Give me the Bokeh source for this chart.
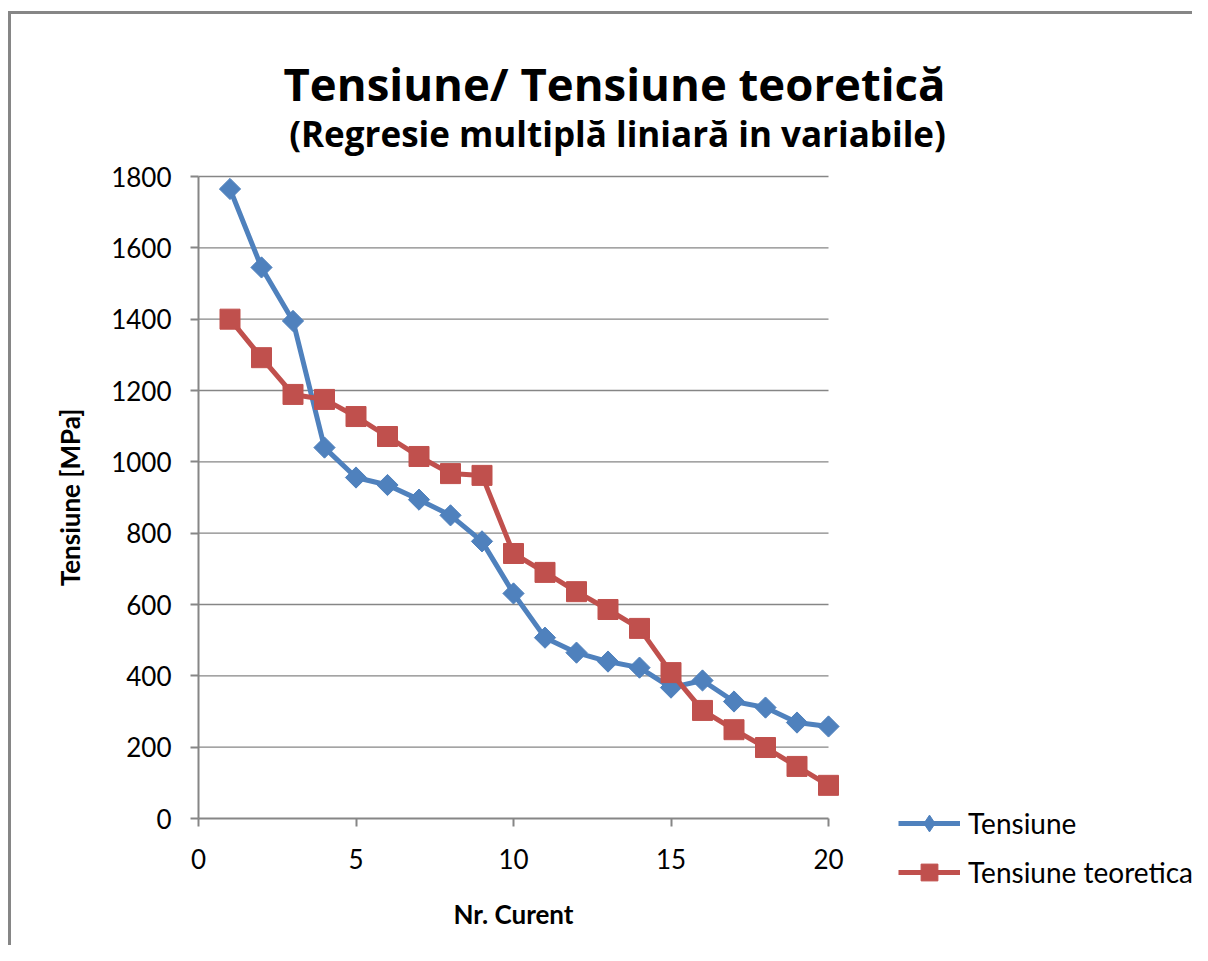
import numpy as np
from bokeh.plotting import figure
from bokeh.models import (FixedTicker, Legend, LegendItem, Label, Range1d)
from bokeh.embed import file_html
from bokeh.resources import INLINE

# ---- data ----
nr_curent = list(range(1, 21))
tensiune = [1765, 1545, 1395, 1040, 956, 935, 894, 850, 777, 631,
            507, 465, 440, 423, 367, 387, 328, 311, 269, 258]
tensiune_teoretica = [1400, 1292, 1189, 1175, 1127, 1071, 1015, 967, 962, 743,
                      690, 636, 586, 533, 409, 303, 249, 199, 146, 93]
x_ticks = [0, 5, 10, 15, 20]
y_ticks = [0, 200, 400, 600, 800, 1000, 1200, 1400, 1600, 1800]
x_bounds = (0, 20)
y_bounds = (0, 1800)
title_main = "Tensiune/ Tensiune teoretică"
title_sub = "(Regresie multiplă liniară in variabile)"
x_label = "Nr. Curent"
y_label = "Tensiune [MPa]"
series_names = ["Tensiune", "Tensiune teoretica"]

BLUE = "#4F81BD"
RED = "#C0504D"
GRAY = "#868686"
FONT = "Lato"
TFONT = "Open Sans"

# ---- layout geometry (pixels) ----
W, H = 1192, 945
PLOT_L, PLOT_R, PLOT_T, PLOT_B = 198, 828, 176, 818
sx = (PLOT_R - PLOT_L) / (x_bounds[1] - x_bounds[0])
sy = (PLOT_B - PLOT_T) / (y_bounds[1] - y_bounds[0])
xr = Range1d(x_bounds[0] - PLOT_L / sx, x_bounds[0] + (W - PLOT_L) / sx)
yr = Range1d(y_bounds[0] - (H - PLOT_B) / sy, y_bounds[0] + PLOT_B / sy)

p = figure(width=W, height=H, output_backend="svg", toolbar_location=None,
           x_range=xr, y_range=yr, min_border=0)
p.outline_line_color = None
p.background_fill_color = None
p.border_fill_color = None
p.styles = {
    "background": ("linear-gradient(#868686,#868686) 8px 11px / 3px 100% no-repeat, "
                   "linear-gradient(#868686,#868686) 8px 11px / 100% 3px no-repeat, white"),
}

# axes at fixed positions inside the canvas
p.xaxis.fixed_location = y_bounds[0]
p.yaxis.fixed_location = x_bounds[0]
p.xaxis.bounds = x_bounds
p.yaxis.bounds = y_bounds
for ax in (p.xaxis[0], p.yaxis[0]):
    ax.axis_line_color = GRAY
    ax.axis_line_width = 2
    ax.major_tick_line_color = GRAY
    ax.major_tick_line_width = 2
    ax.minor_tick_line_color = None
    ax.major_tick_in = 0
    ax.major_tick_out = 8
    ax.major_label_text_font = FONT
    ax.major_label_text_font_size = "26px"
    ax.major_label_text_color = "black"
    ax.axis_label_text_font = FONT
    ax.axis_label_text_font_size = "26px"
    ax.axis_label_text_font_style = "bold"
    ax.axis_label_text_color = "black"

p.xaxis.ticker = FixedTicker(ticks=x_ticks)
p.yaxis.ticker = FixedTicker(ticks=y_ticks)
p.xaxis.major_label_standoff = 22
p.yaxis.major_label_standoff = 19
p.xaxis.axis_label = x_label
p.yaxis.axis_label = y_label
p.xaxis.axis_label_standoff = 26
p.yaxis.axis_label_standoff = 22

# horizontal gridlines limited to the plot area
p.xgrid.grid_line_color = None
p.ygrid.grid_line_color = None
gy = y_ticks[1:]
p.segment(x0=[x_bounds[0]] * len(gy), y0=gy, x1=[x_bounds[1]] * len(gy), y1=gy,
          line_color=GRAY, line_width=1.3)

# series
l1 = p.line(nr_curent, tensiune, line_color=BLUE, line_width=5)
d1 = p.scatter(nr_curent, tensiune, marker="diamond", size=16,
               fill_color=BLUE, line_color=BLUE)
s1 = p.scatter(nr_curent, tensiune, marker="square", size=15, angle=np.pi / 4,
               fill_color=BLUE, line_color=BLUE)
l2 = p.line(nr_curent, tensiune_teoretica, line_color=RED, line_width=5)
s2 = p.scatter(nr_curent, tensiune_teoretica, marker="square", size=20,
               fill_color=RED, line_color=RED)

legend = Legend(items=[LegendItem(label=series_names[0], renderers=[l1, d1]),
                       LegendItem(label=series_names[1], renderers=[l2, s2])],
                location=(898, 52), glyph_width=62, glyph_height=42,
                label_standoff=8, spacing=7, padding=0, margin=0,
                border_line_color=None, background_fill_alpha=0,
                label_text_font=FONT, label_text_font_size="28px",
                label_text_color="black")
p.add_layout(legend, "center")

# titles
p.add_layout(Label(x=614, y=H - 82, x_units="screen", y_units="screen",
                   text=title_main, text_font=TFONT, text_font_size="45.5px",
                   text_font_style="bold", text_align="center",
                   text_baseline="alphabetic", text_color="black"))
p.add_layout(Label(x=617, y=H - 133, x_units="screen", y_units="screen",
                   text=title_sub, text_font=TFONT, text_font_size="35px",
                   text_font_style="bold", text_align="center",
                   text_baseline="alphabetic", text_color="black"))

open("out.html", "w").write(file_html(p, INLINE))
